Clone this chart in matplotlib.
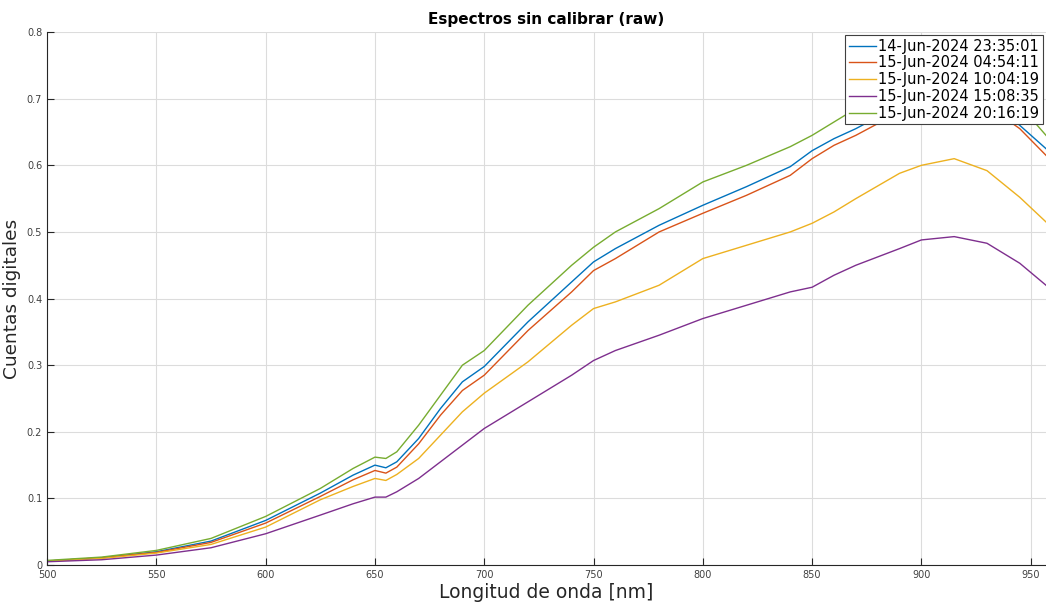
import matplotlib
matplotlib.use("Agg")
import matplotlib.pyplot as plt
import numpy as np

wl = [500, 525, 550, 575, 600, 625, 640, 650, 655, 660, 670, 680, 690, 700,
      720, 740, 750, 760, 780, 800, 820, 840, 850, 860, 870, 890, 900, 915,
      930, 945, 957]

s_2335 = [0.006, 0.011, 0.020, 0.036, 0.067, 0.108, 0.135, 0.150, 0.146, 0.155,
          0.190, 0.235, 0.275, 0.298, 0.365, 0.425, 0.455, 0.475, 0.510, 0.540,
          0.568, 0.598, 0.622, 0.640, 0.655, 0.690, 0.700, 0.710, 0.700, 0.660, 0.625]
s_0454 = [0.006, 0.011, 0.019, 0.034, 0.063, 0.103, 0.128, 0.142, 0.138, 0.147,
          0.182, 0.225, 0.262, 0.285, 0.352, 0.410, 0.442, 0.460, 0.500, 0.528,
          0.555, 0.585, 0.610, 0.630, 0.645, 0.680, 0.690, 0.700, 0.690, 0.655, 0.615]
s_1004 = [0.006, 0.010, 0.018, 0.031, 0.057, 0.098, 0.118, 0.130, 0.127, 0.136,
          0.160, 0.195, 0.230, 0.258, 0.305, 0.360, 0.385, 0.395, 0.420, 0.460,
          0.480, 0.500, 0.513, 0.530, 0.550, 0.588, 0.600, 0.610, 0.592, 0.552, 0.515]
s_1508 = [0.005, 0.008, 0.015, 0.026, 0.047, 0.075, 0.092, 0.102, 0.102, 0.110,
          0.130, 0.155, 0.180, 0.205, 0.245, 0.285, 0.307, 0.322, 0.345, 0.370,
          0.390, 0.410, 0.417, 0.435, 0.450, 0.475, 0.488, 0.493, 0.483, 0.453, 0.420]
s_2016 = [0.007, 0.012, 0.022, 0.040, 0.073, 0.115, 0.145, 0.162, 0.160, 0.170,
          0.210, 0.255, 0.300, 0.322, 0.390, 0.450, 0.477, 0.500, 0.535, 0.575,
          0.600, 0.628, 0.645, 0.665, 0.685, 0.720, 0.730, 0.745, 0.730, 0.690, 0.645]

labels = ["14-Jun-2024 23:35:01", "15-Jun-2024 04:54:11", "15-Jun-2024 10:04:19",
          "15-Jun-2024 15:08:35", "15-Jun-2024 20:16:19"]
series = [s_2335, s_0454, s_1004, s_1508, s_2016]
colors = ["#0072BD", "#D95319", "#EDB120", "#7E2F8E", "#77AC30"]

fig = plt.figure(figsize=(10.46, 6.05), dpi=100)
ax = fig.add_axes([0.045, 0.066, 0.955, 0.881])

for s, c, lab in zip(series, colors, labels):
    ax.plot(wl, s, color=c, lw=1.0, label=lab)

ax.set_xlim(500, 957)
ax.set_ylim(0, 0.8)
ax.set_xticks(np.arange(500, 951, 50))
ax.set_yticks(np.arange(0, 0.81, 0.1))
ax.set_yticklabels(["0", "0.1", "0.2", "0.3", "0.4", "0.5", "0.6", "0.7", "0.8"])
ax.grid(True, color="#DCDCDC", lw=0.8)
ax.set_axisbelow(True)
ax.tick_params(direction="in", length=5, labelsize=7, colors="#262626",
               labelcolor="#404040")
for side in ["top", "right"]:
    ax.spines[side].set_visible(False)
for side in ["left", "bottom"]:
    ax.spines[side].set_color("#262626")
    ax.spines[side].set_linewidth(0.8)

ax.set_xlabel("Longitud de onda [nm]", fontsize=13.5, color="#262626", labelpad=2)
ax.set_ylabel("Cuentas digitales", fontsize=13.3, color="#262626", labelpad=4)
ax.set_title("Espectros sin calibrar (raw)", fontsize=11, fontweight="bold", pad=6)

leg = ax.legend(loc="upper right", fontsize=10.5, handlelength=1.9, handletextpad=0.15,
                borderpad=0.25, labelspacing=0.12, fancybox=False, framealpha=1,
                edgecolor="#404040", borderaxespad=0.2)
leg.get_frame().set_linewidth(0.8)

fig.savefig("out.png", dpi=100)
